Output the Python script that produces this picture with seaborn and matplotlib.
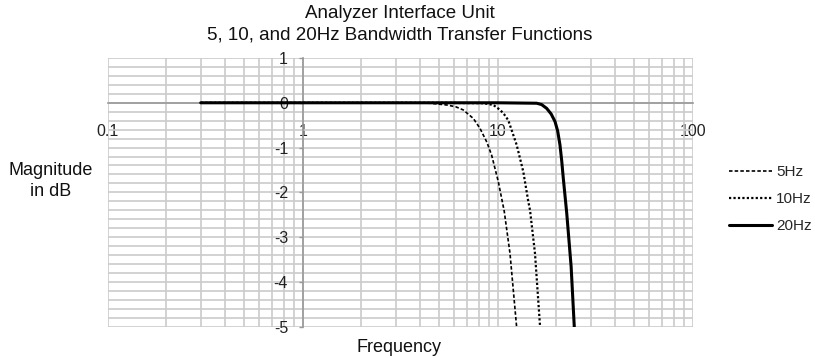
import numpy as np
import pandas as pd
import matplotlib
matplotlib.use("Agg")
import matplotlib.pyplot as plt
from matplotlib.ticker import MultipleLocator, LogLocator, NullFormatter, FixedLocator
import seaborn as sns

# ---- data ----
series_names = ["5Hz", "10Hz", "20Hz"]

freq_5hz = [0.3, 1, 3, 4.5, 5.5, 6.1, 6.66, 7.5, 8.11, 8.8, 9.31, 10.07, 10.8, 11.56, 12.5]
mag_5hz = [0, 0, 0, -0.01, -0.05, -0.09, -0.16, -0.35, -0.57, -0.88, -1.17, -1.76, -2.42, -3.36, -5.0]

freq_10hz = [0.3, 1, 5, 8.5, 9.5, 10.3, 10.8, 11.33, 12.51, 13.53, 14.36, 14.65, 15.53, 16.48]
mag_10hz = [0, 0, 0, -0.01, -0.05, -0.16, -0.26, -0.39, -0.94, -1.54, -2.21, -2.40, -3.36, -4.98]

freq_20hz = [0.3, 1, 10, 15.85, 16.8, 17.83, 18.8, 19.68, 20.3, 20.86, 21.3, 21.7, 22.6, 23.8, 24.7]
mag_20hz = [0, 0, 0, -0.01, -0.04, -0.125, -0.25, -0.42, -0.63, -0.94, -1.3, -1.69, -2.47, -3.66, -5.0]

x_ticks = [0.1, 1, 10, 100]
x_tick_labels = ["0.1", "1", "10", "100"]
y_ticks = [1, 0, -1, -2, -3, -4, -5]

df = pd.concat([
    pd.DataFrame({"Frequency": freq_5hz, "Magnitude": mag_5hz, "Bandwidth": "5Hz"}),
    pd.DataFrame({"Frequency": freq_10hz, "Magnitude": mag_10hz, "Bandwidth": "10Hz"}),
    pd.DataFrame({"Frequency": freq_20hz, "Magnitude": mag_20hz, "Bandwidth": "20Hz"}),
], ignore_index=True)

sns.set_style("white")
plt.rcParams["font.family"] = ["Liberation Sans", "DejaVu Sans"]
plt.rcParams["axes.unicode_minus"] = False

fig = plt.figure(figsize=(8.15, 3.58), dpi=100)
ax = fig.add_axes([107.7 / 815, 1 - 326.7 / 358, (692.7 - 107.7) / 815, (326.7 - 58) / 358])

sns.lineplot(
    data=df, x="Frequency", y="Magnitude",
    hue="Bandwidth", style="Bandwidth", size="Bandwidth",
    hue_order=series_names, style_order=series_names, size_order=series_names,
    palette=["black"] * 3,
    dashes={"5Hz": (2.1, 1.3), "10Hz": (1.0, 1.0), "20Hz": ""},
    sizes={"5Hz": 1.2, "10Hz": 1.6, "20Hz": 2.2},
    estimator=None, sort=False, ax=ax, zorder=3,
)

ax.set_xscale("log")
ax.set_xlim(0.1, 100)
ax.set_ylim(-5, 1)

grid_color = "#cbcbcb"
ax.xaxis.set_major_locator(FixedLocator(x_ticks))
ax.set_xticklabels(x_tick_labels)
ax.xaxis.set_minor_locator(LogLocator(base=10, subs=np.arange(2, 10)))
ax.xaxis.set_minor_formatter(NullFormatter())
ax.yaxis.set_major_locator(FixedLocator(y_ticks))
ax.yaxis.set_minor_locator(MultipleLocator(0.2))
ax.grid(True, which="both", color=grid_color, lw=1.2, zorder=0)
ax.set_axisbelow(True)

for s in ["top", "right"]:
    ax.spines[s].set_visible(False)
ax.spines["left"].set_position(("data", 1))
ax.spines["bottom"].set_position(("data", 0))
for s in ["left", "bottom"]:
    ax.spines[s].set_color("#999999")
    ax.spines[s].set_linewidth(1.2)
    ax.spines[s].set_zorder(2.5)

ax.tick_params(axis="x", which="both", length=0, pad=15, labelsize=11.5, labelcolor="#222222")
ax.tick_params(axis="y", which="major", length=3, width=1, color="#999999", direction="out",
               pad=7.5, labelsize=11.5, labelcolor="#222222", left=True)
ax.tick_params(axis="y", which="minor", length=0)

ax.set_xlabel("")
ax.set_ylabel("")

fig.text(400 / 815, 1 - 14 / 358, "Analyzer Interface Unit", ha="center", va="center", fontsize=13.5, color="#111111")
fig.text(400 / 815, 1 - 35 / 358, "5, 10, and 20Hz Bandwidth Transfer Functions", ha="center", va="center", fontsize=13.5, color="#111111")
fig.text(51 / 815, 1 - 181 / 358, "Magnitude\nin dB", ha="center", va="center", fontsize=13, color="#111111", linespacing=1.25)
fig.text(399 / 815, 1 - 347 / 358, "Frequency", ha="center", va="center", fontsize=13, color="#111111")

sns.move_legend(ax, "upper left", bbox_to_anchor=(729 / 815, 1 - 165 / 358),
                bbox_transform=fig.transFigure, frameon=False, title=None,
                fontsize=11, handlelength=2.8, handletextpad=0.3, labelspacing=0.85,
                borderpad=0, borderaxespad=0)

fig.savefig("out.png", dpi=100)
